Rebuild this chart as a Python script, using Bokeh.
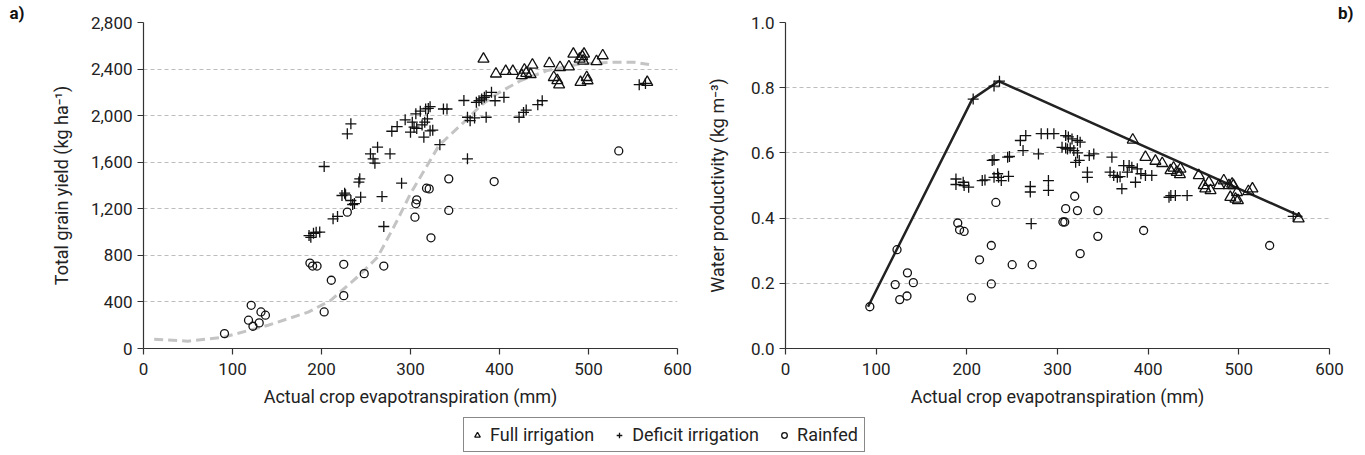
from bokeh.plotting import figure
from bokeh.models import Range1d, FixedTicker, NumeralTickFormatter, Legend, LegendItem, Title
from bokeh.layouts import column, row
from bokeh.embed import file_html
from bokeh.resources import INLINE

FONT = "Roboto"

# ---------------- Panel a: total grain yield ----------------
fi_et_a = [382, 396, 407, 415, 425, 428, 430, 435, 437, 456, 461, 465, 467, 468, 478, 483, 490, 493, 495, 494, 491, 498, 499, 509, 516, 566]
fi_y_a = [2487, 2359, 2381, 2381, 2345, 2393, 2365, 2353, 2436, 2449, 2329, 2302, 2266, 2415, 2421, 2530, 2487, 2508, 2530, 2470, 2287, 2329, 2301, 2466, 2516, 2287]

di_et_a = [186, 191, 194, 198, 188, 203, 213, 218, 223, 226, 227, 229, 233, 233, 235, 237, 242, 243, 244, 255,
           258, 260, 263, 268, 270, 277, 279, 285, 290, 294, 300, 304, 307, 306, 311, 317, 319, 302, 315, 316,
           322, 322, 325, 333, 337, 341, 360, 364, 364, 367, 372, 374, 377, 380, 383, 385, 385, 391, 395, 405,
           422, 427, 430, 443, 448, 557, 564, 320, 313]
di_y_a = [970, 990, 998, 1000, 955, 1563, 1114, 1134, 1314, 1334, 1320, 1844, 1930, 1271, 1237, 1245, 1429, 1457, 1300, 1672,
          1629, 1592, 1729, 1305, 1048, 1672, 1866, 1906, 1420, 1964, 1858, 1901, 1890, 2016, 2038, 2058, 1973, 1944, 1815, 1944,
          2077, 1870, 1875, 1751, 2057, 2057, 2130, 1629, 1986, 1957, 1980, 2114, 2128, 2143, 2157, 2171, 1986, 2200, 2128, 2157,
          1986, 2028, 2048, 2094, 2128, 2266, 2277, 2062, 1920]

rf_et_a = [91, 118, 121, 123, 130, 132, 137, 187, 190, 195, 211, 203, 225, 225, 229, 248, 270, 305, 307, 306, 318, 321, 323, 343, 343, 394, 534]
rf_y_a = [128, 243, 371, 191, 220, 314, 286, 734, 708, 708, 586, 314, 723, 454, 1171, 643, 708, 1128, 1277, 1243, 1377, 1371, 951, 1457, 1186, 1434, 1697]

fit_et = [12, 50, 90, 140, 185, 210, 240, 263, 285, 300, 332, 360, 379, 397, 424, 454, 491, 528, 551, 568]
fit_y = [80, 63, 97, 200, 312, 412, 612, 784, 1099, 1330, 1744, 1944, 2087, 2187, 2302, 2388, 2445, 2459, 2459, 2439]

yield_ticks = [0, 400, 800, 1200, 1600, 2000, 2400, 2800]
yield_grid = [400, 800, 1200, 1600, 2000, 2400]

# ---------------- Panel b: water productivity ----------------
fi_et_b = [383, 397, 408, 415.5, 424.6, 428, 431.5, 435.6, 435, 455.8, 461.3, 467, 468.8, 478, 483.4, 489, 492.6, 490.6, 496.3, 498, 499, 510.5, 515, 566, 494, 463]
fi_wp_b = [0.64, 0.587, 0.575, 0.568, 0.546, 0.554, 0.541, 0.551, 0.534, 0.531, 0.5, 0.51, 0.485, 0.5, 0.515, 0.5, 0.505, 0.464, 0.459, 0.479, 0.454, 0.482, 0.49, 0.398, 0.5, 0.49]

di_et_b = [188, 188, 196, 197, 202, 207, 230, 236, 217, 220, 228, 230, 230, 234, 235, 238, 246, 245, 247, 259,
           265, 262, 270, 270, 279, 282, 289, 296, 290, 290, 271, 309, 312, 316, 322, 305, 309, 311, 318, 322,
           320, 324, 333, 333, 335, 340, 325, 360, 358, 362, 366, 369, 371, 373, 379, 382, 388, 377, 386, 392,
           397, 404, 423, 425, 430, 443, 560, 314]
di_wp_b = [0.52, 0.503, 0.51, 0.50, 0.495, 0.765, 0.805, 0.82, 0.515, 0.517, 0.577, 0.579, 0.525, 0.536, 0.525, 0.515, 0.528, 0.587, 0.589, 0.638,
           0.653, 0.607, 0.497, 0.48, 0.597, 0.659, 0.659, 0.659, 0.515, 0.485, 0.383, 0.653, 0.649, 0.643, 0.638, 0.617, 0.615, 0.612, 0.607, 0.60,
           0.571, 0.577, 0.541, 0.525, 0.592, 0.597, 0.633, 0.587, 0.541, 0.531, 0.525, 0.527, 0.49, 0.561, 0.561, 0.556, 0.551, 0.541, 0.51, 0.536,
           0.531, 0.531, 0.464, 0.469, 0.469, 0.469, 0.405, 0.615]

rf_et_b = [93, 123, 121, 126, 134, 134.5, 141, 190, 192, 197, 205, 214, 227, 227, 232, 250, 272, 306, 308, 309, 319, 322, 325, 344.5, 344.5, 395, 534]
rf_wp_b = [0.128, 0.303, 0.196, 0.150, 0.161, 0.232, 0.202, 0.385, 0.364, 0.359, 0.155, 0.272, 0.316, 0.198, 0.448, 0.257, 0.257, 0.388, 0.388, 0.429, 0.467, 0.423, 0.291, 0.423, 0.344, 0.362, 0.316]

env_et = [91, 206, 235, 570]
env_wp = [0.128, 0.765, 0.82, 0.403]

wp_ticks = [0.0, 0.2, 0.4, 0.6, 0.8, 1.0]
wp_grid = [0.2, 0.4, 0.6, 0.8]

et_ticks = [0, 100, 200, 300, 400, 500, 600]

series_labels = ["Full irrigation", "Deficit irrigation", "Rainfed"]
panel_tags = ["a)", "b)"]


def style(p, yticks, ygrid, fmt, ylabel, lab_standoff):
    p.outline_line_color = None
    p.background_fill_color = "white"
    p.border_fill_color = "white"
    p.xgrid.visible = False
    p.ygrid.ticker = FixedTicker(ticks=ygrid)
    p.ygrid.grid_line_color = "#bdbdbd"
    p.ygrid.grid_line_dash = "4 3"
    p.ygrid.grid_line_width = 1
    p.xaxis.ticker = FixedTicker(ticks=et_ticks)
    p.yaxis.ticker = FixedTicker(ticks=yticks)
    p.yaxis.formatter = NumeralTickFormatter(format=fmt)
    p.xaxis.axis_label = "Actual crop evapotranspiration (mm)"
    p.yaxis.axis_label = ylabel
    p.yaxis.axis_label_standoff = lab_standoff
    p.xaxis.axis_label_standoff = 8
    for ax in (p.xaxis[0], p.yaxis[0]):
        ax.axis_line_color = "#333333"
        ax.axis_line_width = 1.2
        ax.major_tick_line_color = "#333333"
        ax.major_tick_line_width = 1.2
        ax.minor_tick_line_color = None
        ax.major_tick_in = 0
        ax.major_tick_out = 6
        ax.major_label_text_font = FONT
        ax.major_label_text_font_size = "17px"
        ax.major_label_text_color = "#222222"
        ax.axis_label_text_font = FONT
        ax.axis_label_text_font_size = "18px"
        ax.axis_label_text_font_style = "normal"
        ax.axis_label_text_color = "#222222"
    p.xaxis.major_label_standoff = 8
    p.yaxis.major_label_standoff = 5


def tag(text, align, offset):
    return Title(text=text, align=align, offset=offset, text_font=FONT, text_font_size="17px",
                 text_font_style="bold", text_color="#111111", standoff=0)


MK = dict(line_color="#111111", fill_color=None, line_width=1.3)
NAN = float("nan")

p1 = figure(width=700, height=410, x_range=Range1d(0, 600), y_range=Range1d(0, 2800),
            toolbar_location=None, output_backend="svg",
            min_border_left=143, min_border_right=23, min_border_top=0, min_border_bottom=62)
style(p1, yield_ticks, yield_grid, "0,0", "Total grain yield (kg ha\u207b\u00b9)", 16)
p1.add_layout(tag(panel_tags[0], "left", -134), "above")
p1.line(fit_et, fit_y, line_color="#c4c4c4", line_width=3, line_dash="9 5")
p1.scatter(di_et_a, di_y_a, marker="cross", size=11, **MK)
p1.scatter(fi_et_a, fi_y_a, marker="triangle", size=11, **MK)
p1.scatter(rf_et_a, rf_y_a, marker="circle", size=8, **MK)

p2 = figure(width=665, height=410, x_range=Range1d(0, 600), y_range=Range1d(0, 1.0),
            toolbar_location=None, output_backend="svg",
            min_border_left=85, min_border_right=36, min_border_top=0, min_border_bottom=62)
style(p2, wp_ticks, wp_grid, "0.0", "Water productivity (kg m\u207b\u00b3)", 20)
p2.add_layout(tag(panel_tags[1], "right", -24), "above")
p2.line(env_et, env_wp, line_color="#222222", line_width=2.5)
p2.scatter(di_et_b, di_wp_b, marker="cross", size=11, **MK)
p2.scatter(fi_et_b, fi_wp_b, marker="triangle", size=11, **MK)
p2.scatter(rf_et_b, rf_wp_b, marker="circle", size=8, **MK)

# ---------------- legend strip ----------------
pl = figure(width=1365, height=45, x_range=Range1d(0, 1), y_range=Range1d(0, 1),
            toolbar_location=None, output_backend="svg", min_border=0)
pl.axis.visible = False
pl.grid.visible = False
pl.outline_line_color = None
pl.background_fill_color = "white"
pl.border_fill_color = "white"
r1 = pl.scatter(x=[NAN], y=[NAN], marker="triangle", size=8, **MK)
r2 = pl.scatter(x=[NAN], y=[NAN], marker="cross", size=9, **MK)
r3 = pl.scatter(x=[NAN], y=[NAN], marker="circle", size=7, **MK)
leg = Legend(items=[LegendItem(label=series_labels[0], renderers=[r1]),
                    LegendItem(label=series_labels[1], renderers=[r2]),
                    LegendItem(label=series_labels[2], renderers=[r3])],
             orientation="horizontal", location=(463, 3),
             border_line_color="#111111", border_line_width=1,
             label_text_font=FONT, label_text_font_size="18px", label_text_color="#222222",
             glyph_width=14, glyph_height=16, spacing=18, padding=6, margin=0,
             label_standoff=6, background_fill_color="white", background_fill_alpha=1)
pl.add_layout(leg, "center")

layout = column(row(p1, p2), pl)
open("out.html", "w").write(file_html(layout, INLINE))
